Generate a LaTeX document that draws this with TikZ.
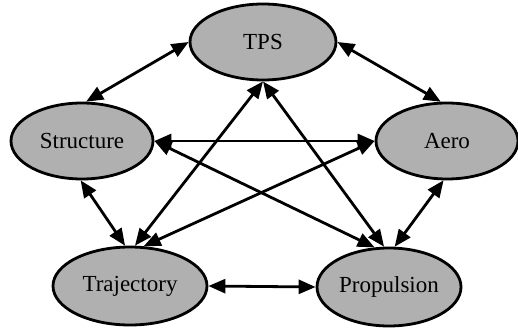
\documentclass[tikz,border=0pt]{standalone}
\usepackage{fontspec}
\setmainfont{Liberation Serif}
\usetikzlibrary{shapes.geometric,arrows.meta}
\begin{document}
\begin{tikzpicture}[x=1pt,y=-1pt,
  discipline/.style={ellipse,draw=black,line width=2.8pt,fill=gray!62,
    inner sep=0pt,font=\fontsize{23}{27}\selectfont},
  link/.style={line width=2.8pt,
    {Triangle[length=17pt,width=14pt]}-{Triangle[length=17pt,width=14pt]}}]
  \useasboundingbox (0,0) rectangle (518,328);
  % disciplines
  \node[discipline,minimum width=146pt,minimum height=76pt] (tps) at (263,42) {TPS};
  \node[discipline,minimum width=142pt,minimum height=76pt] (str) at (82,141) {Structure\hspace{8pt}};
  \node[discipline,minimum width=142pt,minimum height=76pt] (aero) at (447,141) {Aero};
  \node[discipline,minimum width=154pt,minimum height=78pt] (tra) at (130,286) {Trajectory\hspace{10pt}};
  \node[discipline,minimum width=144pt,minimum height=78pt] (pro) at (389,287) {Propulsion};
  % couplings
  \draw[link] (tps.180) -- (str.84);
  \draw[link] (tps.0) -- (aero.99);
  \draw[link] (str.0) -- (aero.180);
  \draw[link] (str.268) -- (tra.97);
  \draw[link] (aero.265) -- (pro.82);
  \draw[link] (tra.0) -- (pro.180);
  \draw[link] (tps.270) -- (tra.83);
  \draw[link] (tps.270) -- (pro.97);
  \draw[link] (str.0) -- (pro.110);
  \draw[link] (aero.180) -- (tra.71);
\end{tikzpicture}
\end{document}
